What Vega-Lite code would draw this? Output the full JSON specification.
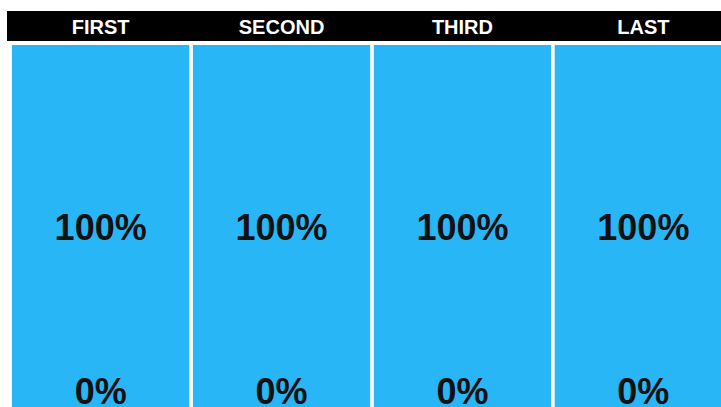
{
  "$schema": "https://vega.github.io/schema/vega-lite/v6.json",
  "width": 721,
  "height": 407,
  "autosize": "none",
  "padding": 0,
  "background": "white",
  "config": {"view": {"stroke": null}},
  "datasets": {
    "cols": [
      {"col": "FIRST"},
      {"col": "SECOND"},
      {"col": "THIRD"},
      {"col": "LAST"}
    ],
    "vals": [
      {"col": "FIRST", "pct": 100, "label": "100%"},
      {"col": "SECOND", "pct": 100, "label": "100%"},
      {"col": "THIRD", "pct": 100, "label": "100%"},
      {"col": "LAST", "pct": 100, "label": "100%"},
      {"col": "FIRST", "pct": 0, "label": "0%"},
      {"col": "SECOND", "pct": 0, "label": "0%"},
      {"col": "THIRD", "pct": 0, "label": "0%"},
      {"col": "LAST", "pct": 0, "label": "0%"}
    ]
  },
  "encoding": {
    "x": {
      "field": "col",
      "type": "nominal",
      "sort": ["FIRST", "SECOND", "THIRD", "LAST"],
      "scale": {"range": [12, 732], "paddingInner": 0.02, "paddingOuter": 0},
      "axis": null
    }
  },
  "layer": [
    {
      "data": {"name": "cols"},
      "mark": {"type": "rect", "color": "#000000", "stroke": "#000000", "strokeWidth": 10},
      "encoding": {
        "y": {"datum": 229.9, "type": "quantitative", "scale": {"domain": [0, 100], "range": [393, 229]}, "axis": null},
        "y2": {"datum": 217.7}
      }
    },
    {
      "data": {"name": "cols"},
      "mark": {"type": "text", "color": "white", "font": "Liberation Sans", "fontWeight": "bold", "fontSize": 20, "baseline": "middle", "align": "center"},
      "encoding": {
        "y": {"datum": 222.6, "type": "quantitative"},
        "text": {"field": "col"}
      }
    },
    {
      "data": {"name": "cols"},
      "mark": {"type": "rect", "color": "#29B6F6"},
      "encoding": {
        "y": {"datum": 212.2, "type": "quantitative"},
        "y2": {"datum": -20}
      }
    },
    {
      "data": {"name": "vals"},
      "mark": {"type": "text", "color": "#111111", "font": "Liberation Sans", "fontWeight": "bold", "fontSize": 36, "baseline": "middle", "align": "center"},
      "encoding": {
        "y": {"field": "pct", "type": "quantitative"},
        "text": {"field": "label"}
      }
    }
  ]
}
